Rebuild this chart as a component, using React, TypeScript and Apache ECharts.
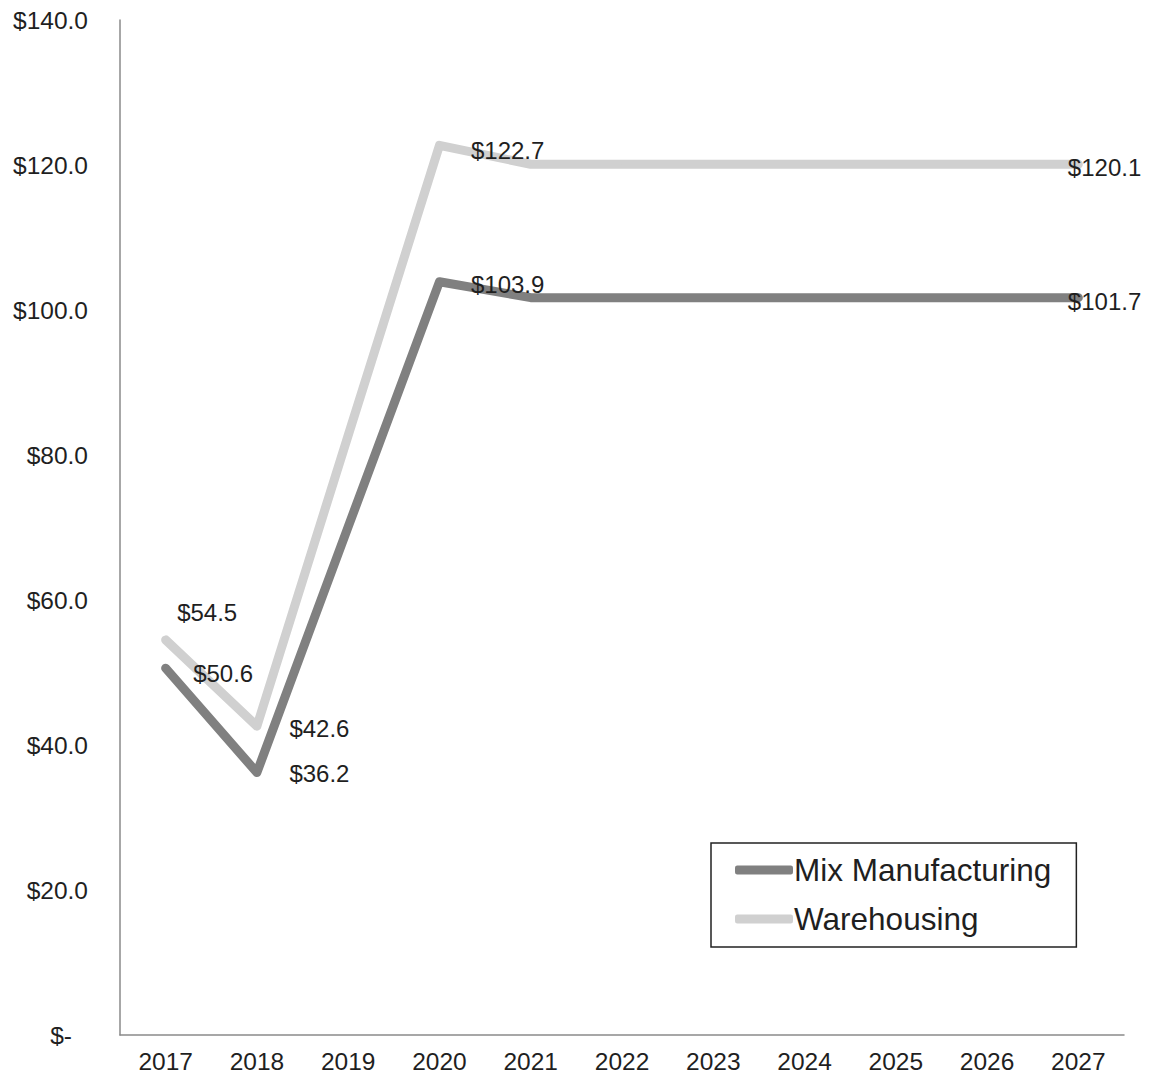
import React, { useEffect, useRef } from "react";
import * as echarts from "echarts";

const years = ["2017", "2018", "2019", "2020", "2021", "2022", "2023", "2024", "2025", "2026", "2027"];
const mixManufacturing = [50.6, 36.2, 70.1, 103.9, 101.7, 101.7, 101.7, 101.7, 101.7, 101.7, 101.7];
const warehousing = [54.5, 42.6, 82.7, 122.7, 120.1, 120.1, 120.1, 120.1, 120.1, 120.1, 120.1];
const seriesNames = ["Mix Manufacturing", "Warehousing"];
const seriesColors = ["#808080", "#d0d0d0"];

// label placements per point index: [distance, dy]
const mixLabels: Record<number, [number, number]> = { 0: [27, 5], 1: [32, 1], 3: [31, 3], 10: [-11, 4] };
const whLabels: Record<number, [number, number]> = { 0: [11, -27], 1: [32, 2], 3: [31, 5], 10: [-11, 3] };

const FONT = "'Liberation Sans', Arial, sans-serif";

function buildData(values: number[], labels: Record<number, [number, number]>) {
  return values.map((v, i) => {
    const l = labels[i];
    if (!l) return { value: v, label: { show: false } };
    return {
      value: v,
      label: {
        show: true,
        position: "right",
        distance: l[0],
        offset: [0, l[1]],
        formatter: (p: any) => "$" + Number(p.value).toFixed(1),
        color: "#1f1f1f",
        fontSize: 24,
        fontFamily: FONT,
      },
    };
  });
}

export default function App() {
  const ref = useRef<HTMLDivElement>(null);
  useEffect(() => {
    document.body.style.margin = "0";
    const chart = echarts.init(ref.current!, null, { renderer: "svg" });
    chart.setOption({
      animation: false,
      backgroundColor: "#ffffff",
      grid: { left: 120, right: 27, top: 20, bottom: 43, containLabel: false },
      legend: {
        orient: "vertical",
        left: 711,
        top: 843,
        padding: [11, 25, 12, 24],
        itemGap: 17,
        itemWidth: 58,
        itemHeight: 9,
        icon: "roundRect",
        borderColor: "#222",
        borderWidth: 1.5,
        backgroundColor: "#fff",
        textStyle: { fontSize: 31.5, fontFamily: FONT, color: "#1f1f1f", padding: [0, 0, 0, -4] },
        data: seriesNames,
      },
      xAxis: {
        type: "category",
        data: years,
        boundaryGap: true,
        axisLine: { lineStyle: { color: "#8a8a8a", width: 1.5 } },
        axisTick: { show: false },
        axisLabel: { color: "#1f1f1f", fontSize: 24.5, fontFamily: FONT, margin: 14 },
      },
      yAxis: {
        type: "value",
        min: 0,
        max: 140,
        interval: 20,
        splitLine: { show: false },
        axisLine: { show: true, lineStyle: { color: "#8a8a8a", width: 1.5 } },
        axisTick: { show: false },
        axisLabel: {
          color: "#1f1f1f",
          fontSize: 24.5,
          fontFamily: FONT,
          margin: 32,
          formatter: (v: number) => (v === 0 ? "{z|$-}" : "$" + v.toFixed(1)),
          rich: { z: { fontSize: 24.5, fontFamily: FONT, color: "#1f1f1f", padding: [0, 16, 0, 0] } },
        },
      },
      series: [
        {
          name: seriesNames[0],
          type: "line",
          data: buildData(mixManufacturing, mixLabels),
          color: seriesColors[0],
          symbol: "circle",
          symbolSize: 1,
          lineStyle: { width: 9, color: seriesColors[0], cap: "round", join: "round" },
          itemStyle: { color: seriesColors[0] },
          z: 3,
        },
        {
          name: seriesNames[1],
          type: "line",
          data: buildData(warehousing, whLabels),
          color: seriesColors[1],
          symbol: "circle",
          symbolSize: 1,
          lineStyle: { width: 9, color: seriesColors[1], cap: "round", join: "round" },
          itemStyle: { color: seriesColors[1] },
          z: 2,
        },
      ],
    });
    return () => chart.dispose();
  }, []);
  return <div ref={ref} style={{ width: 1151, height: 1078 }} />;
}
